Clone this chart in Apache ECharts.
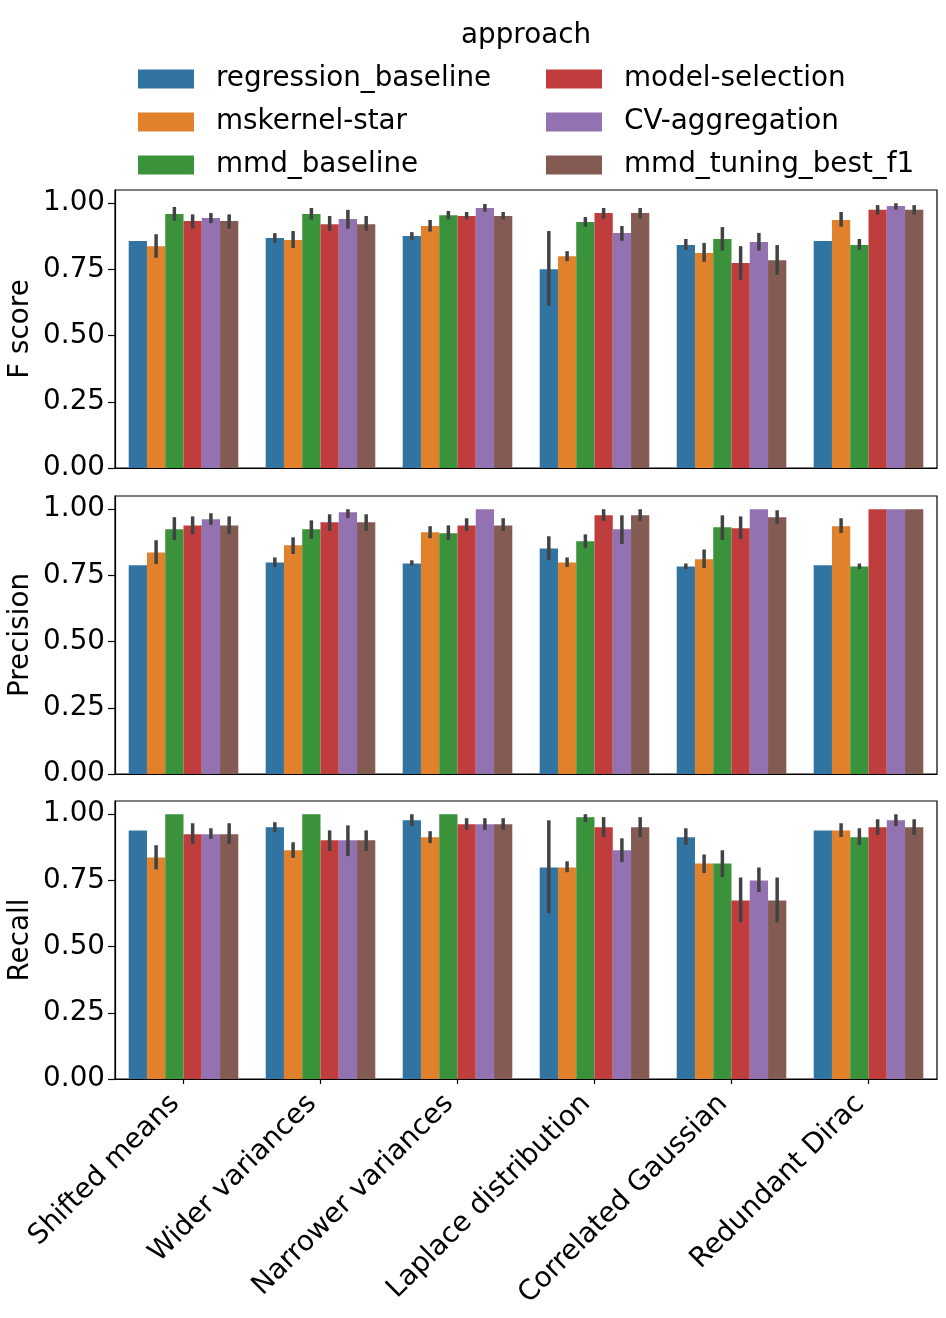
<!DOCTYPE html>
<html><head><meta charset="utf-8">
<script src="https://cdn.jsdelivr.net/npm/echarts@6/dist/echarts.min.js"></script>
<style>html,body{margin:0;padding:0;background:#fff}#c{width:946px;height:1318px}</style>
</head><body><div id="c"></div>
<script>
const categories = ['Shifted means','Wider variances','Narrower variances','Laplace distribution','Correlated Gaussian','Redundant Dirac'];
const approaches = ['regression_baseline','mskernel-star','mmd_baseline','model-selection','CV-aggregation','mmd_tuning_best_f1'];
const colors = ['#3274a1','#e1812c','#3a923a','#c03d3e','#9372b2','#845b53'];
const yTicks = [0, 0.25, 0.5, 0.75, 1.0];
const metricNames = ['F score','Precision','Recall'];

// rows = approaches, columns = categories
const fMean = [
  [0.857,0.869,0.876,0.751,0.842,0.857],
  [0.838,0.861,0.914,0.800,0.812,0.937],
  [0.959,0.959,0.955,0.929,0.865,0.842],
  [0.933,0.921,0.952,0.963,0.774,0.975],
  [0.944,0.940,0.982,0.888,0.854,0.990],
  [0.933,0.921,0.952,0.963,0.785,0.975]];
const fLo = [
  [null,0.850,0.862,0.612,0.824,null],
  [0.794,0.831,0.893,0.781,0.779,0.911],
  [0.934,0.938,0.939,0.911,0.821,0.824],
  [0.904,0.896,0.939,0.942,0.711,0.957],
  [0.925,0.904,0.968,0.858,0.821,0.976],
  [0.904,0.896,0.939,0.942,0.730,0.957]];
const fHi = [
  [null,0.887,0.891,0.895,0.865,null],
  [0.883,0.895,0.937,0.819,0.850,0.967],
  [0.986,0.982,0.971,0.948,0.910,0.865],
  [0.958,0.952,0.967,0.982,0.838,0.993],
  [0.963,0.975,0.997,0.914,0.888,1.000],
  [0.958,0.952,0.967,0.982,0.842,0.993]];

const pMean = [
  [0.788,0.799,0.795,0.852,0.784,0.788],
  [0.837,0.864,0.913,0.799,0.811,0.936],
  [0.924,0.924,0.909,0.879,0.932,0.784],
  [0.939,0.951,0.939,0.977,0.928,1.000],
  [0.962,0.989,1.000,0.924,1.000,1.000],
  [0.939,0.951,0.939,0.977,0.970,1.000]];
const pLo = [
  [null,0.782,0.787,0.808,0.774,null],
  [0.793,0.831,0.891,0.782,0.778,0.910],
  [0.884,0.888,0.884,0.853,0.884,0.774],
  [0.906,0.918,0.918,0.956,0.888,null],
  [0.941,0.967,null,0.869,null,null],
  [0.906,0.918,0.918,0.956,0.944,null]];
const pHi = [
  [null,0.818,0.807,0.898,0.795,null],
  [0.883,0.894,0.936,0.818,0.848,0.966],
  [0.970,0.958,0.939,0.905,0.977,0.795],
  [0.973,0.981,0.966,1.000,0.973,null],
  [0.985,1.000,null,0.977,null,null],
  [0.973,0.981,0.966,1.000,0.996,null]];

const rMean = [
  [0.939,0.951,0.977,0.799,0.913,0.939],
  [0.837,0.864,0.913,0.799,0.814,0.939],
  [1.000,1.000,1.000,0.989,0.814,0.913],
  [0.924,0.902,0.962,0.951,0.674,0.951],
  [0.924,0.902,0.962,0.864,0.750,0.977],
  [0.924,0.902,0.962,0.951,0.674,0.951]];
const rLo = [
  [null,0.933,0.955,0.626,0.884,null],
  [0.792,0.835,0.891,0.781,0.778,0.914],
  [null,null,null,0.971,0.763,0.884],
  [0.888,0.861,0.941,0.914,0.592,0.922],
  [0.907,0.842,0.941,0.819,0.706,0.955],
  [0.888,0.861,0.941,0.914,0.592,0.922]];
const rHi = [
  [null,0.970,1.000,0.977,0.947,null],
  [0.883,0.894,0.936,0.822,0.848,0.966],
  [null,null,null,1.000,0.864,0.947],
  [0.966,0.939,0.985,0.989,0.761,0.981],
  [0.947,0.958,0.985,0.909,0.799,1.000],
  [0.966,0.939,0.985,0.989,0.761,0.981]];

const means = [fMean, pMean, rMean];
const lows = [fLo, pLo, rLo];
const highs = [fHi, pHi, rHi];

const FONT = 'DejaVu Sans';
const FS = 27.8;
const gridTops = [190, 496, 801];
const gridH = 278;
const nS = approaches.length;

const grids = [], xAxes = [], yAxes = [], series = [];
for (let m = 0; m < 3; m++) {
  grids.push({left: 115, right: 9, top: gridTops[m], height: gridH, show: true,
    containLabel: false, outerBoundsMode: 'none',
    borderColor: '#000', borderWidth: 1.2, backgroundColor: 'transparent'});
  const last = m === 2;
  xAxes.push({type: 'category', gridIndex: m, data: categories,
    axisLine: {show: true, lineStyle: {color: '#000', width: 1.2}},
    axisTick: {show: last, alignWithLabel: true, length: 5, lineStyle: {color: '#000', width: 1.2}},
    axisLabel: {show: last, rotate: 45, interval: 0, margin: 12, padding: [0, 12, 0, 0],
      fontFamily: FONT, fontSize: FS, color: '#000'}});
  yAxes.push({type: 'value', gridIndex: m, min: 0, max: 1.05,
    name: metricNames[m], nameLocation: 'middle', nameGap: 80, nameMoveOverlap: false,
    nameTextStyle: {fontFamily: FONT, fontSize: FS, color: '#000'},
    splitLine: {show: false},
    axisLine: {show: true, lineStyle: {color: '#000', width: 1.2}},
    axisTick: {show: true, length: 7, customValues: yTicks, lineStyle: {color: '#000', width: 1.2}},
    axisLabel: {customValues: yTicks, margin: 10, fontFamily: FONT, fontSize: FS, color: '#000',
      formatter: v => v.toFixed(2)}});
  for (let s = 0; s < nS; s++) {
    series.push({type: 'bar', name: approaches[s], xAxisIndex: m, yAxisIndex: m,
      data: means[m][s], barGap: '0%', barCategoryGap: '20%',
      itemStyle: {color: colors[s]}, emphasis: {disabled: true}, z: 2});
  }
  const errData = [];
  for (let s = 0; s < nS; s++) {
    for (let c = 0; c < categories.length; c++) {
      if (lows[m][s][c] != null) errData.push([c, s, lows[m][s][c], highs[m][s][c]]);
    }
  }
  series.push({type: 'custom', xAxisIndex: m, yAxisIndex: m, z: 5, silent: true,
    encode: {x: 0, y: [2, 3]}, data: errData,
    renderItem: function (params, api) {
      const c = api.value(0), s = api.value(1);
      const band = api.size([1, 0])[0];
      const bw = band * 0.8 / nS;
      const cx = api.coord([c, 0])[0] + (s - (nS - 1) / 2) * bw;
      const y1 = api.coord([c, api.value(2)])[1];
      const y2 = api.coord([c, api.value(3)])[1];
      return {type: 'line', shape: {x1: cx, y1: y1, x2: cx, y2: y2},
        style: {stroke: '#424242', lineWidth: 3.5}};
    }});
}

const legendCommon = {orient: 'vertical', icon: 'rect', itemWidth: 56, itemHeight: 19, itemGap: 15,
  textStyle: {fontFamily: FONT, fontSize: FS, color: '#000', padding: [0, 0, 0, 17]},
  selectedMode: false};

const option = {
  animation: false,
  backgroundColor: '#fff',
  title: {text: 'approach', left: 456, top: 17,
    textStyle: {fontFamily: FONT, fontSize: FS, fontWeight: 'normal', color: '#000'}},
  legend: [
    Object.assign({left: 133, top: 60, data: approaches.slice(0, 3)}, legendCommon),
    Object.assign({left: 541, top: 60, data: approaches.slice(3)}, legendCommon)
  ],
  grid: grids, xAxis: xAxes, yAxis: yAxes, series: series
};
const chart = echarts.init(document.getElementById('c'), null, {renderer: 'canvas'});
chart.setOption(option);
</script></body></html>
